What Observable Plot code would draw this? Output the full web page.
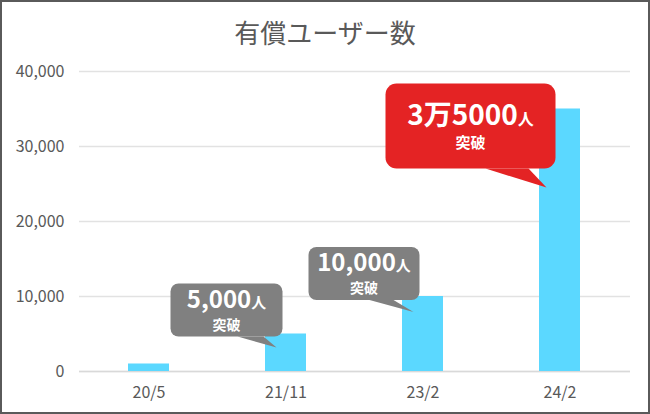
<!DOCTYPE html>
<html>
<head>
<meta charset="utf-8">
<script src="https://cdn.jsdelivr.net/npm/d3@7"></script>
<script src="https://cdn.jsdelivr.net/npm/@observablehq/plot@0.6"></script>
<style>
  html, body { margin: 0; padding: 0; background: #fff; }
  #frame { width: 650px; height: 414px; box-sizing: border-box; border: 2px solid #5a5a5a; background: #fff; overflow: hidden; }
  #title { height: 54px; box-sizing: border-box; padding-top: 17px; text-align: center; font-family: "Noto Sans CJK JP", sans-serif; font-size: 26px; line-height: 1; color: #595959; }
  svg { display: block; }
</style>
</head>
<body>
<div id="frame">
  <div id="title">有償ユーザー数</div>
  <div id="chart"></div>
</div>
<script>
// ---- data ----
const categories = ["20/5", "21/11", "23/2", "24/2"];
const users = [1000, 5000, 10000, 35000];
const yTicks = [0, 10000, 20000, 30000, 40000];
const calloutCategories = ["21/11", "23/2", "24/2"];
const calloutMain = ["5,000", "10,000", "3万5000"];
const calloutUnit = "人";
const calloutSub = "突破";

const data = categories.map((c, i) => ({ cat: c, value: users[i] }));

const plot = Plot.plot({
  width: 646,
  height: 356,
  marginTop: 15,
  marginBottom: 41,
  marginLeft: 77,
  marginRight: 18,
  style: { fontFamily: "Noto Sans CJK JP, sans-serif", fontSize: "16px", color: "#595959", background: "transparent" },
  x: { domain: categories, paddingInner: 0.7, paddingOuter: 0.35, label: null, tickSize: 0, tickPadding: 15 },
  y: { domain: [0, 40000], ticks: 4, tickFormat: d3.format(","), label: null, tickSize: 0, tickPadding: 15 },
  marks: [
    Plot.ruleY(yTicks, { stroke: "#e2e2e2", strokeWidth: 1.5 }),
    Plot.ruleY([0], { stroke: "#d9d9d9", strokeWidth: 1.5 }),
    Plot.barY(data, { x: "cat", y: "value", fill: "#5bd8ff" })
  ]
});
document.getElementById("chart").appendChild(plot);

// ---- callouts, positioned through the plot's own scales ----
const sx = plot.scale("x");
const sy = plot.scale("y");
const xBand = sx.apply ? (v) => sx.apply(v) : (() => {
  const b = d3.scaleBand().domain(sx.domain).range(sx.range)
    .paddingInner(sx.paddingInner).paddingOuter(sx.paddingOuter).align(sx.align ?? 0.5);
  if (sx.round) b.round(true);
  return b;
})();
const yLin = sy.apply ? (v) => sy.apply(v) : d3.scaleLinear().domain(sy.domain).range(sy.range);
const bw = sx.bandwidth;

// layout (relative to bar centre / bar top), styles
const layout = [
  { fill: "#808080", box: [-115, -50, 112, 53], r: 8, tail: [[-48, 3], [-22, 3], [-9, 14]], main: 24, unit: 15, sub: 14, mainY: 24, subY: 46 },
  { fill: "#808080", box: [-114, -49, 111, 53], r: 8, tail: [[-53, 4], [-29, 4], [-9, 16]], main: 24, unit: 15, sub: 14, mainY: 24, subY: 46 },
  { fill: "#e42324", box: [-174, -25, 170, 85], r: 11, tail: [[-74, 60], [-31, 60], [-13, 79]], main: 28, unit: 16, sub: 15, mainY: 41, subY: 64 }
];

const g = d3.select(plot).append("g").attr("font-family", "Noto Sans CJK JP, sans-serif");
calloutCategories.forEach((c, i) => {
  const L = layout[i];
  const cx = xBand(c) + bw / 2;
  const ty = yLin(users[categories.indexOf(c)]);
  const [bx, by, w, h] = L.box;
  const x0 = cx + bx, y0 = ty + by;
  g.append("path")
    .attr("d", "M" + L.tail.map(p => [cx + p[0], ty + p[1]].join(",")).join("L") + "Z")
    .attr("fill", L.fill);
  g.append("rect")
    .attr("x", x0).attr("y", y0).attr("width", w).attr("height", h)
    .attr("rx", L.r).attr("fill", L.fill);
  const t = g.append("text")
    .attr("x", x0 + w / 2).attr("y", y0 + L.mainY)
    .attr("text-anchor", "middle").attr("fill", "#fff").attr("font-weight", "bold");
  t.append("tspan").attr("font-size", L.main).text(calloutMain[i]);
  t.append("tspan").attr("font-size", L.unit).text(calloutUnit);
  g.append("text")
    .attr("x", x0 + w / 2).attr("y", y0 + L.subY)
    .attr("text-anchor", "middle").attr("fill", "#fff").attr("font-weight", "bold")
    .attr("font-size", L.sub).text(calloutSub);
});
</script>
</body>
</html>
